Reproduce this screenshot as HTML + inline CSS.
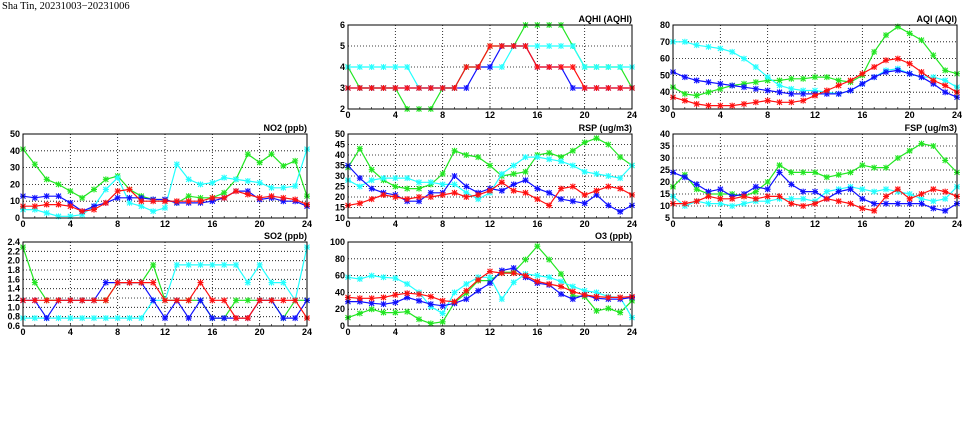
<!DOCTYPE html>
<html><head><meta charset="utf-8"><style>
html,body{margin:0;padding:0;background:#fff;}
svg{display:block;font-family:"Liberation Sans",sans-serif;}
</style></head><body>
<svg id="c" width="975" height="447" viewBox="0 0 975 447" xmlns="http://www.w3.org/2000/svg">
<text x="2" y="9" font-family="Liberation Serif, serif" font-size="10.5" fill="#000">Sha Tin, 20231003−20231006</text>
</svg>
<script>
const hours = [0,1,2,3,4,5,6,7,8,9,10,11,12,13,14,15,16,17,18,19,20,21,22,23,24];
const xTicks = [0,4,8,12,16,20,24];
const seriesNames = ["green","cyan","blue","red"];
const seriesColors = ["#22e622","#22ffff","#1010ff","#ff1010"];

const aqhiGreen = [4,3,3,3,3,2,2,2,3,3,4,4,5,5,5,6,6,6,6,5,4,4,4,4,3];
const aqhiCyan  = [4,4,4,4,4,4,3,3,3,3,4,4,4,4,5,5,5,5,5,5,4,4,4,4,4];
const aqhiBlue  = [3,3,3,3,3,3,3,3,3,3,3,4,4,5,5,5,4,4,4,3,3,3,3,3,3];
const aqhiRed   = [3,3,3,3,3,3,3,3,3,3,4,4,5,5,5,5,4,4,4,4,3,3,3,3,3];
const aqhiTicks = [2,3,4,5,6];

const aqiGreen = [43,39,38,40,42,44,45,46,47,47,48,48,49,49,47,46,50,64,74,79,75,71,62,53,51];
const aqiCyan  = [70,70,68,67,66,64,60,55,49,44,42,41,41,40,39,41,45,49,53,54,51,49,49,47,43];
const aqiBlue  = [52,49,47,46,45,44,43,42,41,40,39,39,39,39,39,41,45,49,52,53,51,49,45,40,37];
const aqiRed   = [37,35,33,32,32,32,33,34,35,34,34,35,38,41,44,47,51,55,59,60,57,52,47,44,40];
const aqiTicks = [30,40,50,60,70,80];

const no2Green = [41,32,23,20,16,12,17,23,25,17,13,11,11,9,13,12,12,15,23,38,33,38,31,34,13];
const no2Cyan  = [5,5,3,1,1,2,7,17,24,9,7,4,6,32,23,20,21,24,23,22,21,18,18,19,41];
const no2Blue  = [13,12,13,13,9,4,7,9,12,12,12,11,11,9,9,9,10,12,16,16,11,12,10,10,7];
const no2Red   = [7,7,8,8,7,4,5,9,16,17,10,10,10,10,10,10,12,12,16,14,12,13,12,11,8];
const no2Ticks = [0,10,20,30,40,50];

const rspGreen = [34,43,33,28,25,24,24,26,31,42,40,39,35,30,31,32,40,41,39,42,46,48,45,39,35];
const rspCyan  = [28,25,28,29,29,29,27,27,26,26,22,19,22,31,35,39,39,38,37,35,32,31,30,29,35];
const rspBlue  = [35,29,24,22,21,18,18,22,22,30,25,22,24,23,26,28,24,22,19,18,17,21,16,13,16];
const rspRed   = [16,17,19,21,20,19,20,20,21,22,20,21,23,27,23,22,19,16,24,25,21,23,25,24,21];
const rspTicks = [10,15,20,25,30,35,40,45,50];

const fspGreen = [18,23,17,15,15,15,14,16,20,27,24,24,24,22,23,24,27,26,26,30,33,36,35,29,24];
const fspCyan  = [14,10,12,11,11,10,11,12,12,13,13,13,12,16,17,18,17,16,17,16,15,13,12,13,18];
const fspBlue  = [24,22,19,16,17,14,15,18,17,24,19,16,16,13,16,17,13,11,11,11,11,11,9,8,11];
const fspRed   = [11,11,12,14,13,13,14,13,14,14,11,10,11,13,12,11,9,8,14,17,13,15,17,16,14];
const fspTicks = [5,10,15,20,25,30,35,40];

const so2Green = [2.29,1.53,1.15,1.15,1.15,1.15,1.15,1.15,1.53,1.53,1.53,1.91,1.15,1.15,1.15,1.15,0.77,0.77,1.15,1.15,1.15,1.15,0.77,1.15,1.15];
const so2Cyan  = [0.77,0.77,0.77,0.77,0.77,0.77,0.77,0.77,0.77,0.77,0.77,1.15,1.15,1.91,1.91,1.91,1.91,1.91,1.91,1.53,1.91,1.53,1.53,1.15,2.29];
const so2Blue  = [1.15,1.15,0.77,1.15,1.15,1.15,1.15,1.53,1.53,1.53,1.53,1.15,0.77,1.15,0.77,1.15,0.77,0.77,0.77,0.77,1.15,1.15,0.77,0.77,1.15];
const so2Red   = [1.15,1.15,1.15,1.15,1.15,1.15,1.15,1.15,1.53,1.53,1.53,1.53,1.15,1.15,1.15,1.53,1.15,1.15,0.77,0.77,1.15,1.15,1.15,1.15,0.77];
const so2Ticks = ["0.6","0.8","1.0","1.2","1.4","1.6","1.8","2.0","2.2","2.4"];

const o3Green = [10,15,20,16,16,17,8,3,5,28,39,54,54,64,64,79,95,79,62,36,35,18,21,16,30];
const o3Cyan  = [58,56,60,58,57,50,40,23,15,40,50,58,58,32,52,62,60,58,53,47,42,40,35,34,10];
const o3Blue  = [29,29,27,26,28,34,30,26,24,27,32,42,51,66,69,58,51,49,38,32,37,33,32,32,34];
const o3Red   = [34,33,33,34,37,39,38,35,30,29,42,55,65,63,63,60,53,50,47,41,37,35,34,34,35];
const o3Ticks = [0,20,40,60,80,100];

const NS = "http://www.w3.org/2000/svg";
const svg = document.getElementById("c");
function mk(tag, attrs, parent){
  const e = document.createElementNS(NS, tag);
  for (const k in attrs) e.setAttribute(k, attrs[k]);
  (parent||svg).appendChild(e);
  return e;
}

function panel(key, title, x0, y0, ticks, series){
  const W = 284, H = 84;
  const g = mk("g", {});
  
  
  const yMin = parseFloat(ticks[0]), yMax = parseFloat(ticks[ticks.length-1]);
  const sx = v => x0 + v / 24 * W;
  const sy = v => y0 + H - (v - yMin) / (yMax - yMin) * H;
  // grid
  ticks.forEach((t, i) => {
    const y = sy(parseFloat(t));
    if (i > 0 && i < ticks.length - 1) {
      const l = mk("line", {x1:x0, x2:x0+W, y1:y, y2:y, stroke:"#000", "stroke-width":0.8, "stroke-dasharray":"1,2"}, g);
      
      
    }
    const lb = mk("text", {x:x0-3, y:y+3, "text-anchor":"end", "font-size":9, "font-weight":"bold"}, g);
    
    
    lb.textContent = t;
  });
  xTicks.forEach((t, i) => {
    const x = sx(t);
    if (i > 0 && i < xTicks.length - 1) {
      const l = mk("line", {x1:x, x2:x, y1:y0, y2:y0+H, stroke:"#000", "stroke-width":0.8, "stroke-dasharray":"1,2"}, g);
      
      
    }
    const lb = mk("text", {x:x, y:y0+H+9, "text-anchor":"middle", "font-size":9, "font-weight":"bold"}, g);
    
    
    lb.textContent = t;
  });
  hours.forEach(h => {
    const x = sx(h);
    mk("line", {x1:x, x2:x, y1:y0+H, y2:y0+H-2, stroke:"#000", "stroke-width":0.6}, g);
  });
  // series
  series.forEach((vals, si) => {
    const col = seriesColors[si];
    const sg = mk("g", {}, g);
    
    
    const pts = vals.map((v, i) => sx(hours[i]).toFixed(1) + "," + sy(v).toFixed(1)).join(" ");
    const pl = mk("polyline", {points:pts, fill:"none", stroke:col, "stroke-width":1.2}, sg);
    
    
    vals.forEach((v, i) => {
      const x = sx(hours[i]), y = sy(v);
      const m = mk("path", {d:`M${x-2.5},${y-2.5}L${x+2.5},${y+2.5}M${x-2.5},${y+2.5}L${x+2.5},${y-2.5}M${x},${y-3}L${x},${y+3}M${x-3},${y}L${x+3},${y}`, stroke:col, "stroke-width":1.1}, sg);
      
      
    });
  });
  const fr = mk("rect", {x:x0, y:y0, width:W, height:H, fill:"none", stroke:"#000", "stroke-width":1}, g);
  
  
  const tt = mk("text", {x:x0+W, y:y0-3, "text-anchor":"end", "font-size":9, "font-weight":"bold"}, g);
  
  
  tt.textContent = title;
}

panel("aqhi", "AQHI (AQHI)", 348, 25, aqhiTicks, [aqhiGreen, aqhiCyan, aqhiBlue, aqhiRed]);
panel("aqi", "AQI (AQI)", 673, 25, aqiTicks, [aqiGreen, aqiCyan, aqiBlue, aqiRed]);
panel("no2", "NO2 (ppb)", 23, 134, no2Ticks, [no2Green, no2Cyan, no2Blue, no2Red]);
panel("rsp", "RSP (ug/m3)", 348, 134, rspTicks, [rspGreen, rspCyan, rspBlue, rspRed]);
panel("fsp", "FSP (ug/m3)", 673, 134, fspTicks, [fspGreen, fspCyan, fspBlue, fspRed]);
panel("so2", "SO2 (ppb)", 23, 242, so2Ticks, [so2Green, so2Cyan, so2Blue, so2Red]);
panel("o3", "O3 (ppb)", 348, 242, o3Ticks, [o3Green, o3Cyan, o3Blue, o3Red]);
</script>
</body></html>
